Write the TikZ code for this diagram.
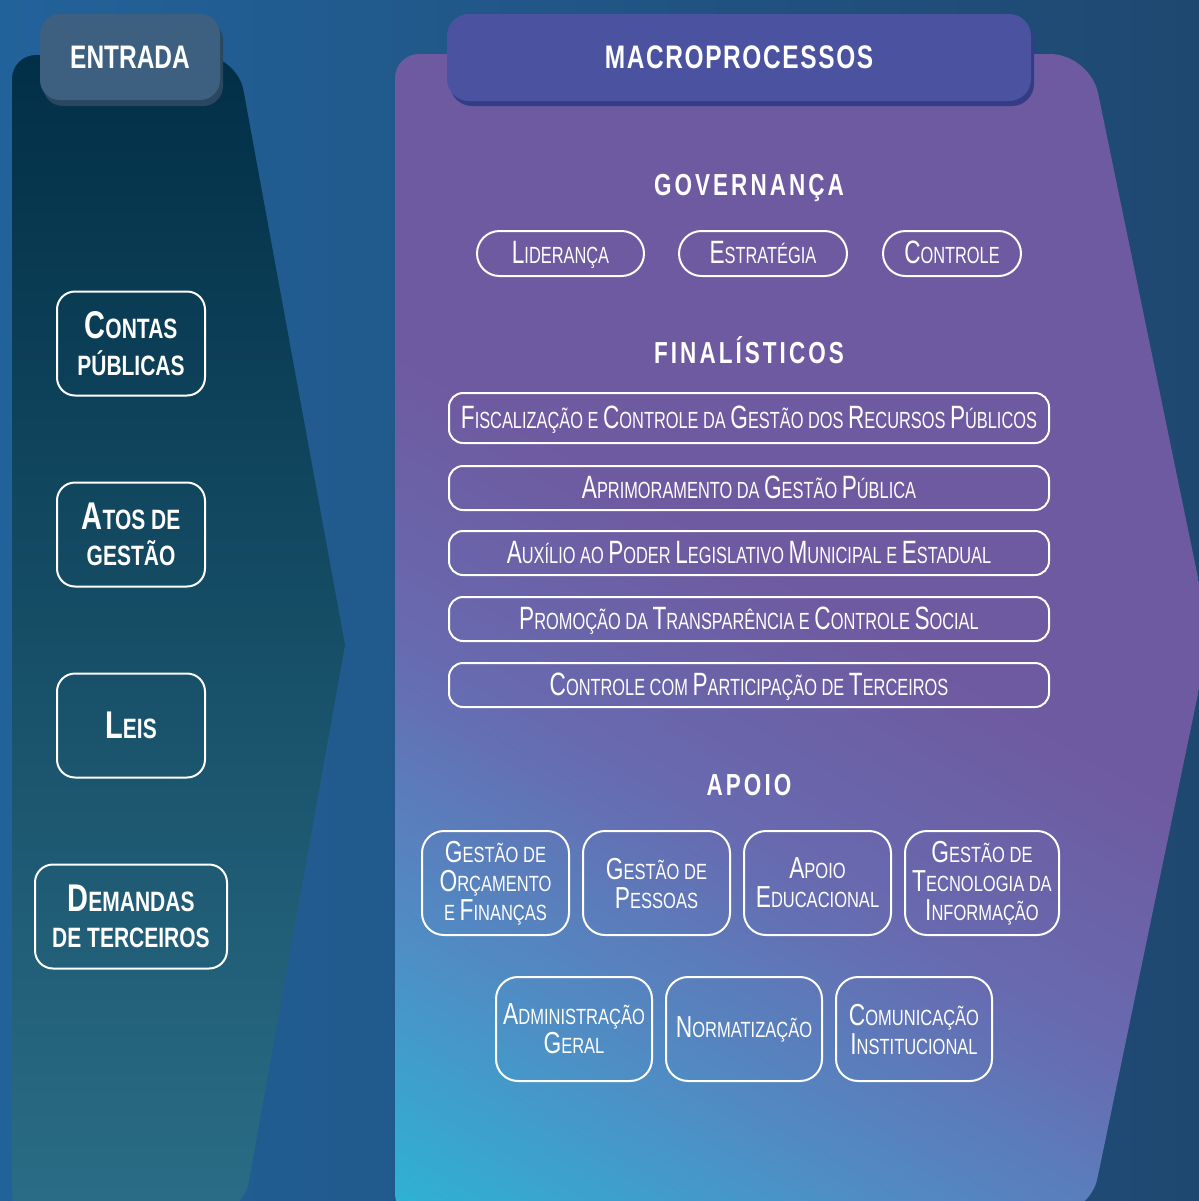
\documentclass[tikz,border=0pt]{standalone}
\usepackage{fontspec}
\setmainfont{Liberation Sans}[FakeStretch=0.70]
\newfontfamily\condwide{Liberation Sans}[FakeStretch=0.75]
\newfontfamily\condbold{Liberation Sans}[FakeStretch=0.75]
\newfontfamily\condtitle{Liberation Sans}[FakeStretch=0.74,LetterSpace=10]
\usepackage{graphicx}
\usepackage{tikz}
\usetikzlibrary{positioning,shadows}

\definecolor{bgleft}{HTML}{22629A}
\definecolor{bgright}{HTML}{1F4870}
\definecolor{intop}{HTML}{012F47}
\definecolor{inbottom}{HTML}{2B6D86}
\definecolor{intab}{HTML}{3D6080}
\definecolor{intabshadow}{HTML}{2B4760}
\definecolor{mptab}{HTML}{4B53A0}
\definecolor{mptabshadow}{HTML}{353C86}
\definecolor{mppurple}{RGB}{110,90,160}
\definecolor{mplav}{RGB}{104,106,176}
\definecolor{mpsky}{RGB}{80,140,196}
\definecolor{mpcyan}{RGB}{46,178,212}

\pgfdeclareverticalshading{macroshade}{100bp}{color(0bp)=(mpcyan); color(16bp)=(mpcyan); color(28bp)=(mpsky); color(40bp)=(mplav); color(52bp)=(mppurple); color(100bp)=(mppurple)}

% first letter bigger, as in small caps
\newcommand\Ini[1]{\scalebox{1.38}{#1}}

\begin{document}
\begin{tikzpicture}[
  x=0.5pt, y=-0.5pt,
  tab/.style={rounded corners=10pt, text=white, inner sep=0pt, font=\condbold\bfseries\fontsize{16.3}{18}\selectfont},
  intab/.style={tab, fill=intab, minimum width=90pt, minimum height=43pt, drop shadow={shadow xshift=1.5pt, shadow yshift=-3pt, fill=intabshadow, opacity=1}},
  mptab/.style={tab, fill=mptab, rounded corners=11pt, minimum width=292pt, minimum height=43.5pt, drop shadow={shadow xshift=1.5pt, shadow yshift=-2.5pt, fill=mptabshadow, opacity=1}},
  entrybox/.style={draw=white, line width=1pt, rounded corners=9pt, align=center, text=white, minimum width=74pt, minimum height=52pt, inner sep=0pt, font=\condbold\bfseries\fontsize{14}{18.3}\selectfont},
  grouptitle/.style={anchor=base, text=white, inner sep=0pt, font=\condtitle\bfseries\fontsize{15.2}{18}\selectfont},
  pill/.style={draw=white, line width=1pt, rounded corners=11.25pt, minimum height=22.5pt, text height=12pt, text depth=2pt, inner sep=0pt, text=white, font=\fontsize{11.7}{14}\selectfont},
  finbox/.style={draw=white, line width=1pt, rounded corners=7pt, minimum width=300pt, minimum height=22pt, text height=12pt, text depth=2pt, inner sep=0pt, text=white, font=\fontsize{11.7}{14}\selectfont},
  apoiobox/.style={draw=white, line width=1pt, rounded corners=11pt, minimum width=73.5pt, minimum height=52pt, align=center, inner sep=0pt, text=white, font=\condwide\fontsize{11}{14.5}\selectfont}
]
\path[use as bounding box] (0,0) rectangle (1199,1201);
\clip (0,0) rectangle (1199,1201);
\shade[left color=bgleft, right color=bgright] (0,0) rectangle (1199,1201);

% entrada arrow
\shade[top color=intop, bottom color=inbottom] (150,1214) [rounded corners=10pt] -- (12,1214) [rounded corners=12pt] -- (12,55) [rounded corners=18pt] -- (237,55) [sharp corners] -- (345,645) [rounded corners=16pt] -- (243,1214) [sharp corners] -- cycle;
% macroprocessos arrow
\shade[shading=macroshade, shading angle=-30] (700,1214) [rounded corners=10pt] -- (395,1214) [rounded corners=12pt] -- (395,54) [rounded corners=20pt] -- (1090,54) [sharp corners] -- (1210,636) [rounded corners=18pt] -- (1090,1214) [sharp corners] -- cycle;

\node[intab] (entrada) at (130,57) {ENTRADA};
\node[mptab] (macro) at (739,57.5) {\addfontfeature{LetterSpace=5}MACROPROCESSOS};

\node[entrybox] (contas) at (131,343.5) {\Ini{C}ONTAS\\PÚBLICAS};
\node[entrybox, below=42.5pt of contas] (atos) {\Ini{A}TOS DE\\GESTÃO};
\node[entrybox, below=42.5pt of atos] (leis) {\Ini{L}EIS};
\node[entrybox, below=42.5pt of leis, minimum width=96pt] (demandas) {\Ini{D}EMANDAS\\DE TERCEIROS};

\node[grouptitle] (governanca) at (749,195) {GOVERNANÇA};
\node[pill, minimum width=83.5pt] (lideranca) at (560.5,253.5) {\Ini{L}IDERANÇA};
\node[pill, minimum width=84pt, right=16.5pt of lideranca] (estrategia) {\Ini{E}STRATÉGIA};
\node[pill, minimum width=69pt, right=17pt of estrategia] (controle) {\Ini{C}ONTROLE};

\node[grouptitle] (finalisticos) at (749,363) {FINALÍSTICOS};
\node[finbox, minimum height=25pt] (fiscalizacao) at (749,418) {\Ini{F}ISCALIZAÇÃO E \Ini{C}ONTROLE DA \Ini{G}ESTÃO DOS \Ini{R}ECURSOS \Ini{P}ÚBLICOS};
\node[finbox, below=10.5pt of fiscalizacao] (aprimoramento) {\Ini{A}PRIMORAMENTO DA \Ini{G}ESTÃO \Ini{P}ÚBLICA};
\node[finbox, below=9.5pt of aprimoramento] (auxilio) {\Ini{A}UXÍLIO AO \Ini{P}ODER \Ini{L}EGISLATIVO \Ini{M}UNICIPAL E \Ini{E}STADUAL};
\node[finbox, below=10pt of auxilio] (promocao) {\Ini{P}ROMOÇÃO DA \Ini{T}RANSPARÊNCIA E \Ini{C}ONTROLE \Ini{S}OCIAL};
\node[finbox, below=10pt of promocao] (participacao) {\Ini{C}ONTROLE COM \Ini{P}ARTICIPAÇÃO DE \Ini{T}ERCEIROS};

\node[grouptitle] (apoio) at (749,795) {APOIO};
\node[apoiobox] (orcamento) at (495.5,883) {\Ini{G}ESTÃO DE\\\Ini{O}RÇAMENTO\\E \Ini{F}INANÇAS};
\node[apoiobox, right=6pt of orcamento] (pessoas) {\Ini{G}ESTÃO DE\\\Ini{P}ESSOAS};
\node[apoiobox, right=6pt of pessoas] (educacional) {\Ini{A}POIO\\\Ini{E}DUCACIONAL};
\node[apoiobox, right=6pt of educacional, minimum width=77pt] (tecnologia) {\Ini{G}ESTÃO DE\\\Ini{T}ECNOLOGIA DA\\\Ini{I}NFORMAÇÃO};
\node[apoiobox, minimum width=78pt] (administracao) at (574,1029) {\Ini{A}DMINISTRAÇÃO\\\Ini{G}ERAL};
\node[apoiobox, minimum width=78pt, right=6pt of administracao] (normatizacao) {\Ini{N}ORMATIZAÇÃO};
\node[apoiobox, minimum width=78pt, right=6pt of normatizacao] (comunicacao) {\Ini{C}OMUNICAÇÃO\\\Ini{I}NSTITUCIONAL};
\end{tikzpicture}
\end{document}
